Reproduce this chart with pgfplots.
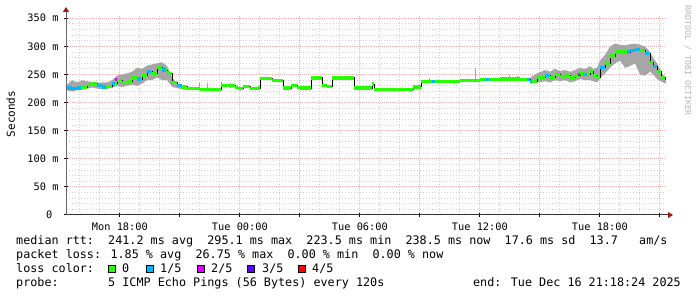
\documentclass[border=0pt]{standalone}
\usepackage{fontspec}
\usepackage{pgfplots}
\usepackage{pgfplotstable}
\pgfplotsset{compat=1.18}
\usetikzlibrary{arrows.meta}
\newfontfamily\mono{DejaVu Sans Mono}
\definecolor{lossA}{HTML}{26FF00}
\definecolor{lossB}{HTML}{00B8FF}
\definecolor{lossC}{HTML}{DD00FF}
\definecolor{lossD}{HTML}{5E00FF}
\definecolor{lossE}{HTML}{FF0000}
\definecolor{mgrid}{HTML}{E8B4B4}
\definecolor{ngrid}{HTML}{D2D2D2}
\definecolor{arrowred}{HTML}{A01818}
\definecolor{smoke}{HTML}{A6A6A6}
\newcommand\legfont{\mono\fontsize{11.76pt}{14pt}\selectfont}
\newcommand\axfont{\mono\fontsize{10.3pt}{12pt}\selectfont}

\pgfplotstableread{
h rtt
15.36 226
15.61 225
15.86 226
16.11 227
16.36 232
16.61 234
16.86 231
17.11 228
17.36 229
17.61 234
17.86 239
18.11 236
18.36 238
18.61 244
18.86 242
19.11 248
19.36 256
19.61 252
19.86 262
20.11 258
20.36 254
20.51 252
20.61 236
20.86 231
21.11 228
21.36 225
22.01 224
22.51 223
23.01 224
23.06 230
23.76 227
23.91 225
24.16 229
24.51 225
24.91 226
25.01 243
25.61 240
26.16 226
26.56 230
26.86 227
27.01 226
27.56 244
28.11 231
28.36 229
28.61 244
29.71 226
30.61 233
30.71 223
32.66 228
33.06 237
34.01 237
35.01 239
36.01 241
37.01 242
38.01 241
38.51 238
38.86 245
39.26 248
39.51 244
39.76 250
40.01 246
40.26 248
40.51 244
40.76 248
41.01 252
41.26 250
41.51 256
41.66 248
41.86 245
42.01 262
42.26 270
42.51 283
42.76 290
43.01 292
43.26 290
43.51 293
43.76 294
44.01 293
44.26 288
44.51 272
44.66 265
44.86 255
45.06 245
45.26 238
45.31 238
}\median

\begin{document}
\begin{tikzpicture}[x=1pt,y=1pt]
\fill[white] (0,0) rectangle (697,297);
\useasboundingbox (0,0) rectangle (697,297);
\begin{axis}[
  at={(66pt,82pt)}, anchor=south west,
  scale only axis, width=600pt, height=200pt,
  xmin=15.307, xmax=45.307, ymin=0, ymax=356,
  axis x line=bottom, axis y line=left,
  x axis line style={black!80, line width=1pt, shorten >=-7pt, -{Triangle[length=5pt,width=6pt,color=arrowred]}},
  y axis line style={black!60, line width=1pt, shorten >=-8pt, -{Triangle[length=5pt,width=6pt,color=arrowred]}},
  xtick={18,21,...,45},
  xticklabels={Mon 18:00,,Tue 00:00,,Tue 06:00,,Tue 12:00,,Tue 18:00,},
  minor xtick={16,17,19,20,22,23,25,26,28,29,31,32,34,35,37,38,40,41,43,44},
  ytick={0,50,...,350},
  yticklabels={0~~,50~m,100~m,150~m,200~m,250~m,300~m,350~m},
  minor y tick num=4,
  grid=both,
  major grid style={draw=mgrid, line width=1pt, dash pattern=on 1pt off 1pt},
  minor grid style={draw=ngrid, line width=1pt, dash pattern=on 1pt off 2pt},
  tick align=center, major tick length=4pt, minor tick length=0pt,
  tick style={black, line width=1pt},
  xticklabel style={font=\axfont, anchor=base, yshift=-13.3pt},
  yticklabel style={font=\axfont, anchor=base east, yshift=-3.6pt, xshift=-2pt},
]
% smoke, early period
\addplot[draw=none, fill=smoke] coordinates {
(15.36,232) (15.61,240) (15.86,236) (16.11,240) (16.36,238) (16.61,237) (16.86,235) (17.11,236) (17.36,236) (17.61,240) (17.86,248) (18.11,250) (18.36,252) (18.61,255) (18.86,262) (19.11,260) (19.36,266) (19.61,268) (19.86,270) (20.11,272) (20.36,265) (20.61,245) (20.86,234) (21.11,230) (21.36,228)
(21.36,223) (21.11,224) (20.86,226) (20.61,228) (20.36,240) (20.11,240) (19.86,245) (19.61,240) (19.36,240) (19.11,234) (18.86,230) (18.61,232) (18.36,230) (18.11,228) (17.86,230) (17.61,226) (17.36,225) (17.11,224) (16.86,225) (16.61,227) (16.36,225) (16.11,223) (15.86,222) (15.61,220) (15.36,222)};
% smoke, late period
\addplot[draw=none, fill=smoke] coordinates {
(38.51,244) (38.86,252) (39.26,258) (39.51,255) (39.76,260) (40.01,256) (40.26,258) (40.51,255) (40.76,258) (41.01,262) (41.26,260) (41.51,265) (41.66,260) (41.86,262) (42.01,275) (42.26,285) (42.51,300) (42.76,305) (43.01,303) (43.26,302) (43.51,304) (43.76,305) (44.01,303) (44.26,300) (44.51,290) (44.66,280) (44.86,270) (45.06,255) (45.26,245)
(45.26,234) (45.06,238) (44.86,242) (44.66,250) (44.51,255) (44.26,248) (44.01,250) (43.76,270) (43.51,265) (43.26,262) (43.01,275) (42.76,270) (42.51,262) (42.26,252) (42.01,244) (41.86,236) (41.66,238) (41.51,240) (41.26,240) (41.01,242) (40.76,238) (40.51,236) (40.26,240) (40.01,238) (39.76,240) (39.51,236) (39.26,238) (38.86,236) (38.51,234)};
% smoke spikes, quiet period
\addplot[smoke, line width=1pt, unbounded coords=jump] coordinates {
(21.96,222) (21.96,235) (21.96,nan)
(22.36,222) (22.36,235) (22.36,nan)
(23.06,224) (23.06,236) (23.06,nan)
(23.51,226) (23.51,235) (23.51,nan)
(33.46,236) (33.46,244) (33.46,nan)
(35.76,238) (35.76,262) (35.76,nan)
(37.46,240) (37.46,249) (37.46,nan)
(37.86,240) (37.86,247) (37.86,nan)
};
% median, dark connecting line
\addplot[black, line width=1pt, const plot] table[x=h, y=rtt] {\median};
% median coloured by loss: 0
\addplot[lossA, line width=3.2pt, jump mark left] table[x=h, y=rtt] {\median};
% loss 1/5
\addplot[lossB, line width=3.2pt, unbounded coords=jump] coordinates {
(15.36,226) (15.61,226) (15.61,nan) (15.61,225) (15.86,225) (15.86,nan) (15.86,226) (16.06,226) (16.06,nan)
(16.86,231) (17.11,231) (17.11,nan) (17.11,228) (17.30,228) (17.30,nan)
(17.61,234) (17.75,234) (17.75,nan)
(18.86,242) (19.06,242) (19.06,nan)
(19.36,256) (19.56,256) (19.56,nan)
(20.11,258) (20.30,258) (20.30,nan)
(20.86,231) (21.11,231) (21.11,nan)
(33.60,237) (33.75,237) (33.75,nan)
(36.30,241) (36.45,241) (36.45,nan)
(38.36,241) (38.51,241) (38.51,nan) (38.51,238) (38.61,238) (38.61,nan)
(39.26,248) (39.46,248) (39.46,nan)
(41.16,250) (41.36,250) (41.36,nan)
(42.01,262) (42.26,262) (42.26,nan)
(43.36,290) (43.51,290) (43.51,nan) (43.51,293) (43.76,293) (43.76,nan) (43.76,294) (44.01,294) (44.01,nan)
(44.26,288) (44.46,288) (44.46,nan)
(44.66,265) (44.86,265)
};
% loss 2/5
\addplot[lossC, line width=3.2pt, unbounded coords=jump] coordinates {
(17.75,241) (17.86,241) (17.86,nan) (40.90,250) (41.01,250)
};
\end{axis}
% y label
\node[rotate=90, anchor=base, font=\mono\fontsize{11pt}{13pt}\selectfont, inner sep=0pt] at (15,183) {Seconds};
% watermark
\node[rotate=-90, anchor=base west, font=\mono\fontsize{8.3pt}{10pt}\selectfont, text=black!28, inner sep=0pt] at (685,292) {RRDTOOL / TOBI OETIKER};
% legend
\node[anchor=base west, inner sep=0pt, font=\legfont] at (16,52) {median rtt:~~241.2 ms avg~~295.1 ms max~~223.5 ms min~~238.5 ms now~~17.6 ms sd~~13.7~~~am/s};
\node[anchor=base west, inner sep=0pt, font=\legfont] at (16,38) {packet loss: 1.85 \% avg~~26.75 \% max~~0.00 \% min~~0.00 \% now};
\node[anchor=base west, inner sep=0pt, font=\legfont] at (16,24) {loss color:};
\foreach \bx/\col/\lab/\lx in {108/lossA/0/122, 146/lossB/1\slash 5/160, 197/lossC/2\slash 5/211, 247/lossD/3\slash 5/262, 298/lossE/4\slash 5/312}{
  \filldraw[fill=\col, draw=black, line width=1pt] (\bx+0.5,24.5) rectangle (\bx+7.5,31.5);
  \node[anchor=base west, inner sep=0pt, font=\legfont] at (\lx,24) {\lab};
}
\node[anchor=base west, inner sep=0pt, font=\legfont] at (16,10) {probe:~~~~~~~5 ICMP Echo Pings (56 Bytes) every 120s};
\node[anchor=base east, inner sep=0pt, font=\legfont] at (681,10) {end: Tue Dec 16 21:18:24 2025};
\end{tikzpicture}
\end{document}
